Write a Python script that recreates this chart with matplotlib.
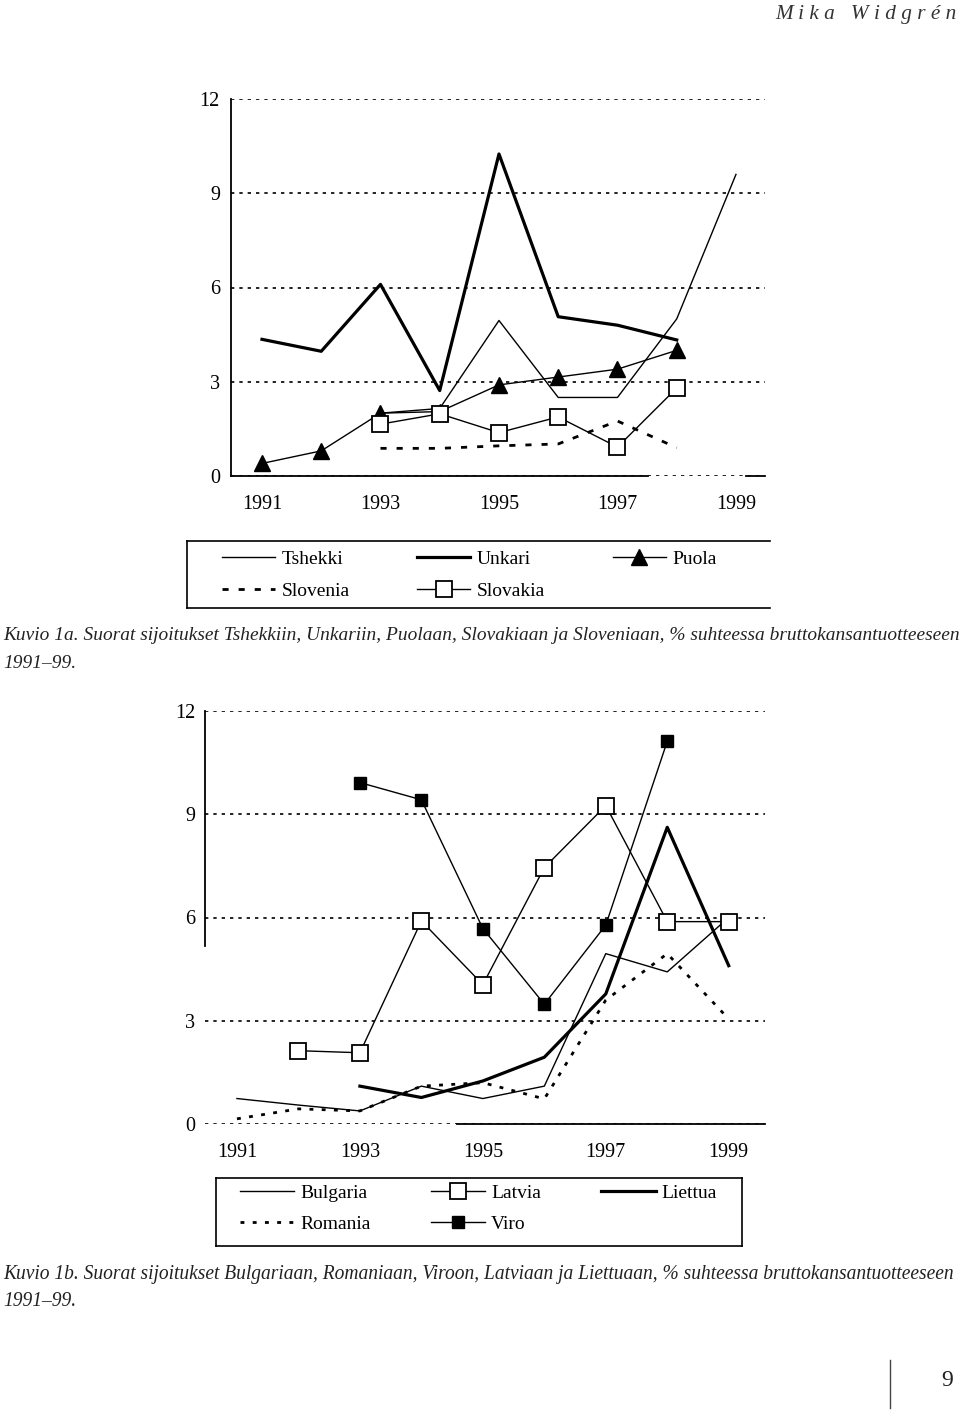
import numpy as np
import matplotlib
matplotlib.use("Agg")
import matplotlib.pyplot as plt
from matplotlib.lines import Line2D

plt.rcParams['font.family'] = ['Liberation Serif', 'DejaVu Serif']

# ---------------- data ----------------
years = [1991, 1992, 1993, 1994, 1995, 1996, 1997, 1998, 1999]
year_ticks = [1991, 1993, 1995, 1997, 1999]
y_ticks = [0, 3, 6, 9, 12]
nan = np.nan

# Figure 1a
tshekki = [nan, nan, 2.0, 2.15, 4.95, 2.5, 2.5, 5.0, 9.6]
unkari = [4.35, 3.97, 6.1, 2.72, 10.25, 5.07, 4.8, 4.33, nan]
puola = [0.4, 0.8, 2.0, 2.05, 2.9, 3.15, 3.4, 4.0, nan]
slovenia = [nan, nan, 0.88, 0.88, 0.96, 1.02, 1.75, 0.9, nan]
slovakia = [nan, nan, 1.65, 1.98, 1.38, 1.88, 0.92, 2.8, nan]

# Figure 1b
bulgaria = [0.74, 0.55, 0.38, 1.1, 0.74, 1.1, 4.95, 4.42, 6.0]
romania = [0.15, 0.44, 0.38, 1.1, 1.2, 0.73, 3.6, 4.95, 3.05]
latvia = [nan, 2.13, 2.07, 5.9, 4.05, 7.45, 9.25, 5.88, 5.88]
viro = [nan, nan, 9.92, 9.42, 5.68, 3.48, 5.78, 11.12, nan]
liettua = [nan, nan, 1.1, 0.77, 1.25, 1.94, 3.78, 8.62, 4.6]

caption1 = ("Kuvio 1a. Suorat sijoitukset Tshekkiin, Unkariin, Puolaan, Slovakiaan ja "
            "Sloveniaan, % suhteessa bruttokansantuotteeseen")
caption2 = ("Kuvio 1b. Suorat sijoitukset Bulgariaan, Romaniaan, Viroon, Latviaan ja "
            "Liettuaan, % suhteessa bruttokansantuotteeseen")
caption_tail = "1991\u201399."
header = "M i k a   W i d g r \u00e9 n"
page_no = "9"

# ---------------- figure ----------------
W, H = 960, 1413
fig = plt.figure(figsize=(W / 100, H / 100), dpi=100)
fig.patch.set_facecolor('white')


def fx(px):
    return px / W


def fy(py):
    return 1 - py / H


TICK_FS = 14.5
LEG_FS = 14
grid_style = dict(color='black', linestyle=(0, (2, 3)), linewidth=1.2)


def style_axes(ax, xmin, xmax, ypad, solid_bottom, solid_left):
    ax.set_xlim(xmin, xmax)
    ax.set_ylim(0, 12)
    ax.set_xticks(year_ticks)
    ax.set_xticklabels([str(y) for y in year_ticks])
    ax.set_yticks(y_ticks)
    ax.set_yticklabels([str(v) for v in y_ticks])
    ax.tick_params(axis='both', length=0, labelsize=TICK_FS)
    ax.tick_params(axis='y', pad=ypad)
    ax.tick_params(axis='x', pad=14)
    for s in ['top', 'right', 'bottom', 'left']:
        ax.spines[s].set_visible(False)
    ax.grid(axis='y', **grid_style)
    ax.set_axisbelow(True)
    for a, b in solid_bottom:
        ax.axhline(0, xmin=a, xmax=b, color='black', linewidth=1.3, clip_on=False)
    for a, b in solid_left:
        ax.axvline(xmin, ymin=a, ymax=b, color='black', linewidth=1.3, clip_on=False)
    ax.set_facecolor('none')


thin = 1.0
thick = 2.3

# ---------- Chart 1a ----------
ax1 = fig.add_axes([fx(231), fy(476), fx(765) - fx(231), fy(99) - fy(476)])
style_axes(ax1, 1990.477, 1999.49, 8, [(0, 0.78), (0.965, 1.0)], [(0, 1)])
l_tsh, = ax1.plot(years, tshekki, color='black', lw=thin, label='Tshekki', clip_on=False)
l_unk, = ax1.plot(years, unkari, color='black', lw=thick, label='Unkari', clip_on=False)
l_slo, = ax1.plot(years, slovenia, color='black', lw=2.0, linestyle=(0, (2.2, 3.6)),
                  label='Slovenia', clip_on=False)
l_pol, = ax1.plot(years, puola, color='black', lw=thin, marker='^', markersize=11,
                  markerfacecolor='black', markeredgecolor='black', label='Puola',
                  clip_on=False, zorder=4)
l_svk, = ax1.plot(years, slovakia, color='black', lw=thin, marker='s', markersize=11,
                  markerfacecolor='white', markeredgecolor='black', markeredgewidth=1.3,
                  label='Slovakia', clip_on=False, zorder=5)

leg1 = ax1.legend(handles=[l_tsh, l_slo, l_unk, l_svk, l_pol], ncol=3,
                  loc='upper left', bbox_to_anchor=(fx(222), fy(550)),
                  bbox_transform=fig.transFigure, frameon=False, fontsize=LEG_FS,
                  numpoints=1, handlelength=2.7, handletextpad=0.35,
                  columnspacing=3.5, labelspacing=0.75, borderpad=0, borderaxespad=0)

# legend box 1 (left, top, bottom)
for xs, ys in [([187, 187], [541, 608]), ([187, 770], [541, 541]), ([187, 770], [608, 608])]:
    fig.add_artist(Line2D([fx(v) for v in xs], [fy(v) for v in ys], color='black',
                          lw=1.2, transform=fig.transFigure))

# ---------- Chart 1b ----------
ax2 = fig.add_axes([fx(205), fy(1124), fx(765) - fx(205), fy(711) - fy(1124)])
style_axes(ax2, 1990.48, 1999.59, 7, [(0.45, 1.0)], [(0.43, 1.0)])
l_bul, = ax2.plot(years, bulgaria, color='black', lw=thin, label='Bulgaria', clip_on=False)
l_rom, = ax2.plot(years, romania, color='black', lw=2.0, linestyle=(0, (1.4, 3.0)),
                  label='Romania', clip_on=False)
l_lie, = ax2.plot(years, liettua, color='black', lw=thick, label='Liettua', clip_on=False)
l_vir, = ax2.plot(years, viro, color='black', lw=thin, marker='s', markersize=9,
                  markerfacecolor='black', markeredgecolor='black', label='Viro',
                  clip_on=False, zorder=4)
l_lat, = ax2.plot(years, latvia, color='black', lw=thin, marker='s', markersize=11,
                  markerfacecolor='white', markeredgecolor='black', markeredgewidth=1.3,
                  label='Latvia', clip_on=False, zorder=5)

leg2 = ax2.legend(handles=[l_bul, l_rom, l_lat, l_vir, l_lie], ncol=3,
                  loc='upper left', bbox_to_anchor=(fx(240), fy(1184)),
                  bbox_transform=fig.transFigure, frameon=False, fontsize=LEG_FS,
                  numpoints=1, handlelength=2.8, handletextpad=0.3,
                  columnspacing=3.1, labelspacing=0.7, borderpad=0, borderaxespad=0)

for xs, ys in [([216, 216], [1178, 1246]), ([216, 742], [1178, 1178]),
               ([216, 742], [1246, 1246]), ([742, 742], [1178, 1246])]:
    fig.add_artist(Line2D([fx(v) for v in xs], [fy(v) for v in ys], color='black',
                          lw=1.2, transform=fig.transFigure))

# ---------- texts ----------
renderer = fig.canvas.get_renderer()


def fit_text(x, y, s, width_px, fs0, **kw):
    t = fig.text(fx(x), fy(y), s, fontsize=fs0, **kw)
    w = t.get_window_extent(renderer=renderer).width
    t.set_fontsize(fs0 * width_px / w)
    return t


cap_kw = dict(style='italic', ha='left', va='center', color='#222222')
t1 = fit_text(3, 636, caption1, 954, 14, **cap_kw)
fig.text(fx(3), fy(663), caption_tail, fontsize=t1.get_fontsize(), **cap_kw)
t2 = fit_text(3, 1275, caption2, 954, 14, **cap_kw)
fig.text(fx(3), fy(1301), caption_tail, fontsize=t2.get_fontsize(), **cap_kw)

fit_text(775, 14, header, 182, 15, style='italic', ha='left', va='center', color='#333333')

fig.text(fx(947), fy(1381), page_no, fontsize=17, ha='center', va='center', color='#222222')
fig.add_artist(Line2D([fx(890), fx(890)], [fy(1360), fy(1408)], color='#444444', lw=1.0,
                      transform=fig.transFigure))

fig.savefig('out.png', dpi=100, facecolor='white')
